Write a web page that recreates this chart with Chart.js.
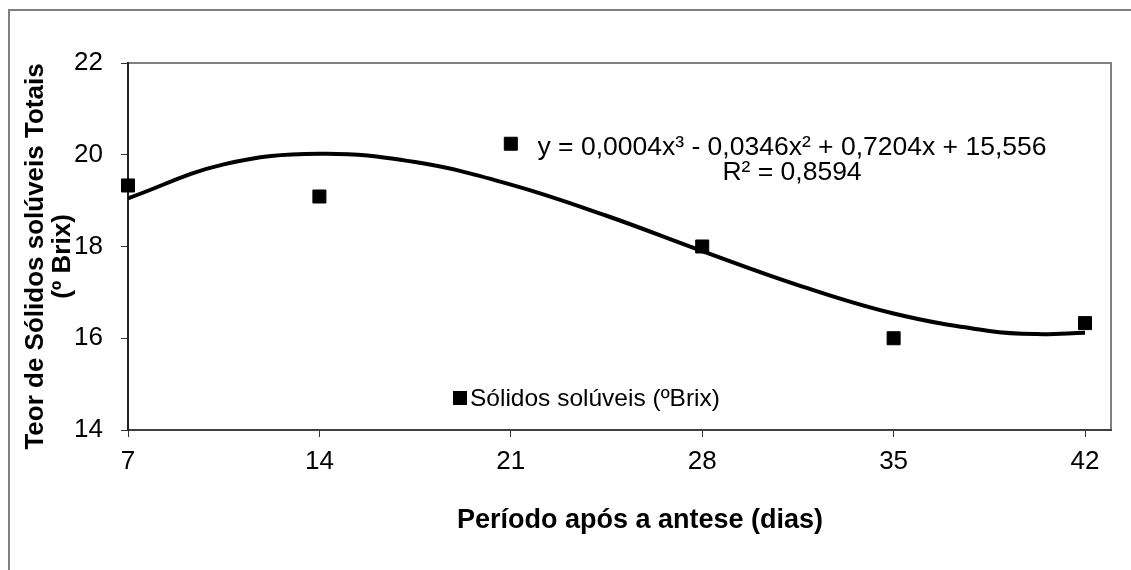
<!DOCTYPE html>
<html><head><meta charset="utf-8">
<script src="https://cdn.jsdelivr.net/npm/chart.js@4.4.1/dist/chart.umd.min.js"></script>
<style>html,body{margin:0;padding:0;background:#fff;} canvas{display:block;}</style>
</head><body>
<canvas id="c" width="1131" height="570"></canvas>
<script>
// ---- data ----
const days = [7, 14, 21, 28, 35, 42];
const brix = [19.33, 19.09, 20.24, 18.0, 16.0, 16.33];
// polynomial trendline
const trendDays = [7, 10.5, 14, 17.5, 21, 24.5, 28, 31.5, 35, 38.5, 40.25, 42];
const trendBrix = [19.05, 19.79, 20.02, 19.84, 19.35, 18.67, 17.90, 17.16, 16.54, 16.16, 16.09, 16.12];
const xTicks = [7, 14, 21, 28, 35, 42];
const yTicks = [14, 16, 18, 20, 22];
const seriesLabel = 'Sólidos solúveis (ºBrix)';
const trendLabel = 'Polinômio (Sólidos solúveis (ºBrix))';
const equationLines = ['y = 0,0004x³ - 0,0346x² + 0,7204x + 15,556', 'R² = 0,8594'];
const yTitleLines = ['Teor de Sólidos solúveis Totais', '(º Brix)'];
const xTitle = 'Período após a antese (dias)';

const FONT = '"Liberation Sans", Arial, sans-serif';

const framePlugin = {
  id: 'frame',
  beforeDraw(chart) {
    const ctx = chart.ctx, a = chart.chartArea;
    ctx.save();
    ctx.fillStyle = '#fff';
    ctx.fillRect(0, 0, chart.width, chart.height);
    ctx.strokeStyle = '#808080';
    ctx.lineWidth = 2;
    ctx.strokeRect(9, 10, chart.width + 20, chart.height + 20);
    ctx.strokeRect(a.left, a.top, a.right - a.left, a.bottom - a.top);
    ctx.restore();
  },
  afterDraw(chart) {
    const ctx = chart.ctx;
    ctx.save();
    ctx.fillStyle = '#000';
    // y axis title (two lines, rotated)
    ctx.font = 'bold 26px ' + FONT;
    ctx.textAlign = 'center';
    ctx.textBaseline = 'middle';
    ctx.save();
    ctx.translate(36, 256.5);
    ctx.rotate(-Math.PI / 2);
    ctx.fillText(yTitleLines[0], 0, 0);
    ctx.fillText(yTitleLines[1], 0, 27);
    ctx.restore();
    // x axis title
    ctx.font = 'bold 27px ' + FONT;
    ctx.textBaseline = 'alphabetic';
    ctx.fillText(xTitle, 640, 528);
    // trendline equation
    ctx.font = '26.5px ' + FONT;
    ctx.fillText(equationLines[0], 792, 155);
    ctx.fillText(equationLines[1], 792, 180);
    // legend
    const ds = chart.data.datasets[0];
    ctx.fillStyle = ds.backgroundColor;
    ctx.fillRect(453, 391, 14, 14);
    ctx.fillStyle = '#000';
    ctx.font = '24.5px ' + FONT;
    ctx.textAlign = 'left';
    ctx.fillText(ds.label, 470, 406);
    ctx.restore();
  }
};

new Chart(document.getElementById('c'), {
  type: 'scatter',
  data: {
    datasets: [
      {
        label: seriesLabel,
        data: days.map((d, i) => ({ x: d, y: brix[i] })),
        backgroundColor: '#000',
        borderColor: '#000',
        borderWidth: 1,
        pointStyle: 'rect',
        pointRadius: 9.2,
        pointHoverRadius: 9.2,
        showLine: false,
        clip: false
      },
      {
        label: trendLabel,
        data: trendDays.map((d, i) => ({ x: d, y: trendBrix[i] })),
        borderColor: '#000',
        backgroundColor: '#000',
        borderWidth: 4,
        pointRadius: 0,
        showLine: true,
        tension: 0.4,
        fill: false
      }
    ]
  },
  options: {
    responsive: false,
    animation: false,
    layout: { padding: { top: 63, right: 20, left: 0, bottom: 0 } },
    plugins: { legend: { display: false }, tooltip: { enabled: false } },
    scales: {
      x: {
        type: 'linear',
        min: 7,
        max: 42.95,
        afterBuildTicks(scale) { scale.ticks = xTicks.map(v => ({ value: v })); },
        afterFit(scale) { scale.height = 140; },
        ticks: { color: '#000', font: { family: FONT, size: 26 }, padding: 9, autoSkip: false, maxRotation: 0 },
        grid: { display: true, drawOnChartArea: false, drawTicks: true, tickLength: 7, color: '#333', lineWidth: 1 },
        border: { display: true, color: '#404040', width: 2 }
      },
      y: {
        type: 'linear',
        min: 14,
        max: 22,
        afterBuildTicks(scale) { scale.ticks = yTicks.map(v => ({ value: v })); },
        afterFit(scale) { scale.width = 128; },
        ticks: { color: '#000', font: { family: FONT, size: 26 }, padding: 18 },
        grid: { display: true, drawOnChartArea: false, drawTicks: true, tickLength: 7, color: '#333', lineWidth: 1 },
        border: { display: true, color: '#222', width: 2 }
      }
    }
  },
  plugins: [framePlugin]
});
</script>
</body></html>
